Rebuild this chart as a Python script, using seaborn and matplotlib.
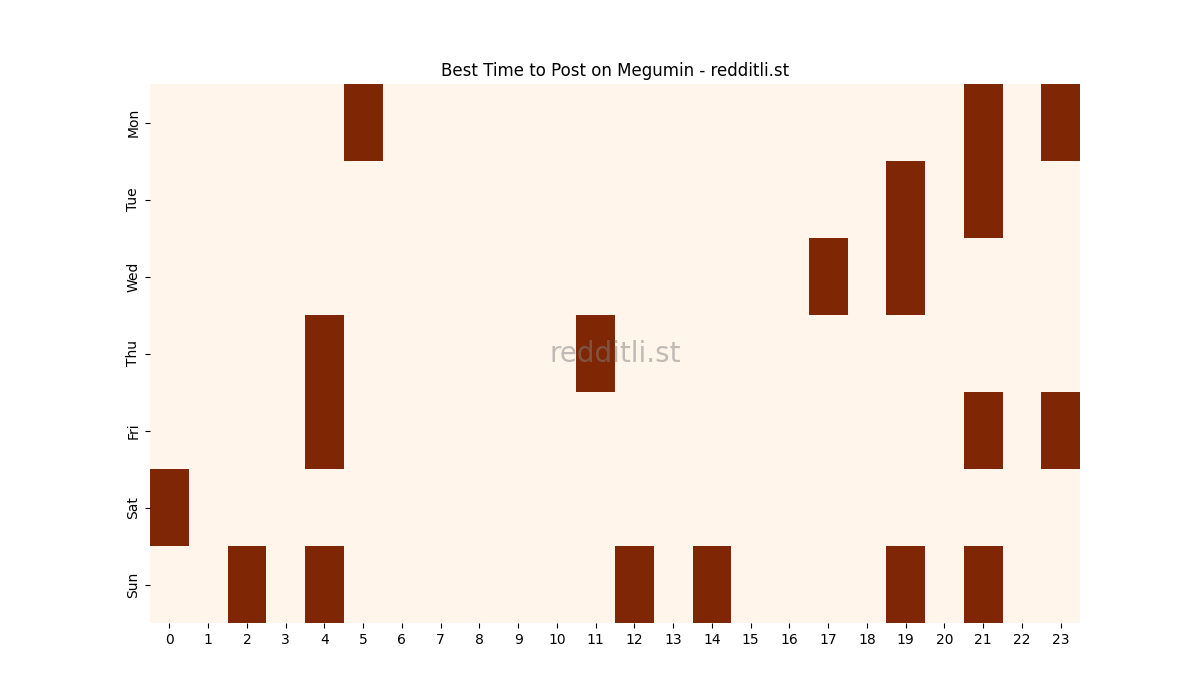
import numpy as np
import pandas as pd
import matplotlib
matplotlib.use("Agg")
import matplotlib.pyplot as plt
import seaborn as sns

days = ["Mon", "Tue", "Wed", "Thu", "Fri", "Sat", "Sun"]
hours = list(range(24))
best_hours = {
    "Mon": [5, 21, 23],
    "Tue": [19, 21],
    "Wed": [17, 19],
    "Thu": [4, 11],
    "Fri": [4, 21, 23],
    "Sat": [0],
    "Sun": [2, 4, 12, 14, 19, 21],
}

grid = pd.DataFrame(0, index=days, columns=hours)
for d, hs in best_hours.items():
    for h in hs:
        grid.loc[d, h] = 1

fig, ax = plt.subplots(figsize=(12, 7), dpi=100)
sns.heatmap(grid, cmap="Oranges", cbar=False, ax=ax)
ax.set_title("Best Time to Post on Megumin - redditli.st")
ax.set_yticklabels(days, rotation=90, va="center")
ax.set_xticklabels([str(h) for h in hours], rotation=0)
ax.text(0.5, 0.5, "redditli.st", transform=ax.transAxes, ha="center", va="center",
        fontsize=20, color="grey", alpha=0.5)
fig.savefig("out.png", dpi=100)
